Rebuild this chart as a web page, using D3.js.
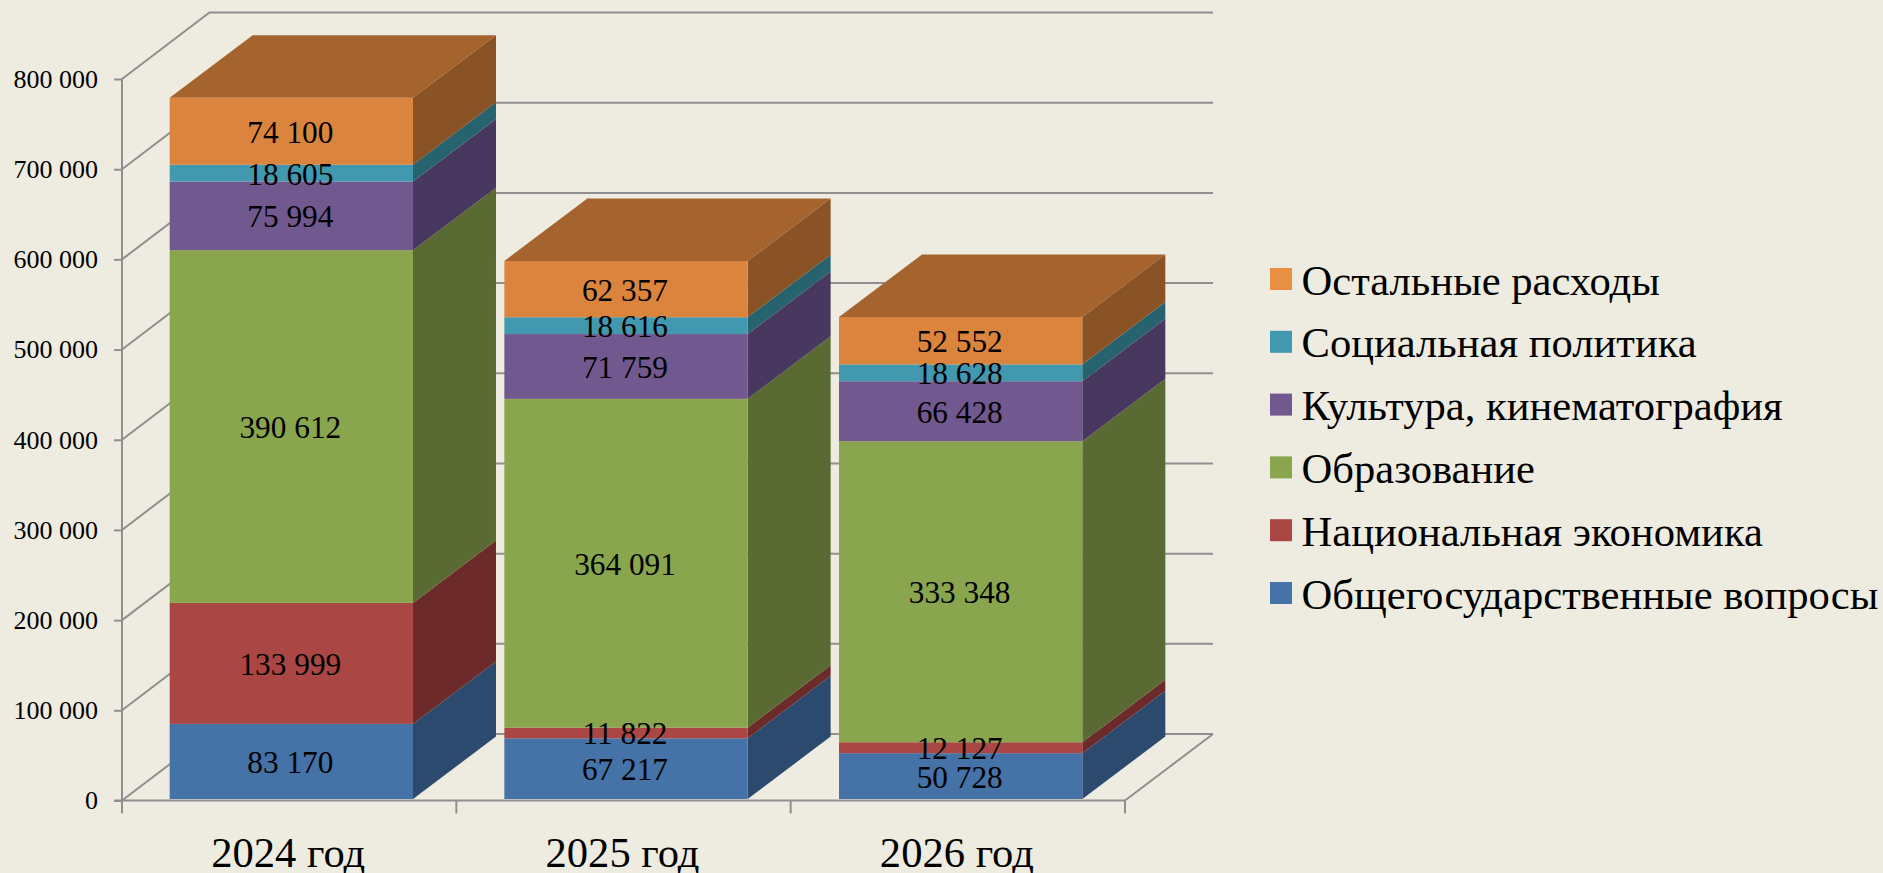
<!DOCTYPE html>
<html>
<head>
<meta charset="utf-8">
<script src="https://cdn.jsdelivr.net/npm/d3@7"></script>
<style>
  html, body { margin: 0; padding: 0; background: #eeece1; overflow: hidden; }
  svg { display: block; }
  text { font-family: "Liberation Serif", serif; fill: #000; }
  .grid, .axis-line { fill: none; stroke: #8f8f8f; stroke-width: 2; }
  .axis path { display: none; }
  .axis line { stroke: #8f8f8f; stroke-width: 2; }
  .axis text { font-size: 26px; }
</style>
</head>
<body>
<svg width="1883" height="873"></svg>
<script>
const years = ["2024 год", "2025 год", "2026 год"];

// stacked bottom to top
const seriesNames = [
  "Общегосударственные вопросы",
  "Национальная экономика",
  "Образование",
  "Культура, кинематография",
  "Социальная политика",
  "Остальные расходы",
];
const generalIssues = [83170, 67217, 50728];
const economy = [133999, 11822, 12127];
const education = [390612, 364091, 333348];
const culture = [75994, 71759, 66428];
const socialPolicy = [18605, 18616, 18628];
const otherSpending = [74100, 62357, 52552];
const seriesValues = [generalIssues, economy, education, culture, socialPolicy, otherSpending];

const yTicks = [0, 100000, 200000, 300000, 400000, 500000, 600000, 700000, 800000];

const frontColors = ["#4572a7", "#aa4643", "#89a54e", "#71588f", "#4198af", "#db843d"];
const sideColors = ["#2c4a6e", "#6c2b2a", "#596b32", "#48375e", "#27626f", "#8a5326"];
const topColor = "#a5632e";
const legendColors = ["#4572a7", "#aa4643", "#89a54e", "#71588f", "#4198af", "#e98f43"];

const svg = d3.select("svg");
const fmt = d3.formatLocale({ thousands: " ", grouping: [3], decimal: ",", currency: ["", ""] }).format(",d");

// axis plane
const xAxisScale = d3.scaleBand().domain(years).range([122, 1125]);
const y = d3.scaleLinear().domain([0, 800000]).range([800.5, 79]);
const wallDx = 87.5;
const wallDy = -66.5;
const wallRight = 1213;

// the bars stand slightly inside the floor
const xBar = d3.scaleBand().domain(years).range([124, 1128]).paddingInner(0.273).paddingOuter(0.1365);
const yBar = d3.scaleLinear().domain([0, 800000]).range([799, 76.6]);
const barDx = 83;
const barDy = -62.5;

// grid on the side and back walls
svg.append("g")
  .selectAll("path")
  .data(yTicks)
  .enter()
  .append("path")
  .attr("class", "grid")
  .attr("d", (d) => `M${122},${y(d)}L${122 + wallDx},${y(d) + wallDy}L${wallRight},${y(d) + wallDy}`);

// floor front edge
svg.append("path")
  .attr("class", "grid")
  .attr("d", `M1125,${y(0)}L${wallRight},${y(0) + wallDy}`);

// axes
svg.append("g")
  .attr("class", "axis")
  .attr("transform", "translate(122,0)")
  .call(d3.axisLeft(y).tickValues(yTicks).tickFormat(fmt).tickSize(8).tickPadding(16));

svg.append("path").attr("class", "axis-line").attr("d", `M122,${y(800000)}L122,${y(0) + 13}`);
svg.append("path").attr("class", "axis-line").attr("d", `M114,${y(0)}L1125,${y(0)}`);

svg.append("g")
  .selectAll("line")
  .data(years.map((d) => xAxisScale(d) + xAxisScale.step()))
  .enter()
  .append("line")
  .attr("x1", (d) => d)
  .attr("x2", (d) => d)
  .attr("y1", y(0))
  .attr("y2", y(0) + 13)
  .attr("stroke", "#8f8f8f")
  .attr("stroke-width", 2);

svg.append("g")
  .selectAll("text")
  .data(years)
  .enter()
  .append("text")
  .attr("x", (d) => xAxisScale(d) + xAxisScale.bandwidth() / 2 - 1)
  .attr("y", 867)
  .attr("text-anchor", "middle")
  .attr("font-size", 42.6)
  .text((d) => d);

// bars
const stacked = d3.stack().keys(d3.range(seriesNames.length)).value((d, k) => seriesValues[k][d])(d3.range(years.length));

years.forEach((year, i) => {
  const g = svg.append("g");
  const x0 = xBar(year);
  const x1 = x0 + xBar.bandwidth();

  stacked.forEach((layer, k) => {
    const yLow = yBar(layer[i][0]);
    const yHigh = yBar(layer[i][1]);

    g.append("path")
      .attr("fill", sideColors[k])
      .attr("d", `M${x1},${yLow}L${x1 + barDx},${yLow + barDy}L${x1 + barDx},${yHigh + barDy}L${x1},${yHigh}Z`);
    g.append("rect")
      .attr("x", x0)
      .attr("y", yHigh)
      .attr("width", xBar.bandwidth())
      .attr("height", yLow - yHigh)
      .attr("fill", frontColors[k]);

    if (k === stacked.length - 1) {
      g.append("path")
        .attr("fill", topColor)
        .attr("d", `M${x0},${yHigh}L${x0 + barDx},${yHigh + barDy}L${x1 + barDx},${yHigh + barDy}L${x1},${yHigh}Z`);
    }
  });

  // labels last so they can run over the next segment
  stacked.forEach((layer, k) => {
    g.append("text")
      .attr("x", (x0 + x1) / 2 - 1)
      .attr("y", (yBar(layer[i][0]) + yBar(layer[i][1])) / 2 + 11.5)
      .attr("text-anchor", "middle")
      .attr("font-size", 31.3)
      .text(fmt(seriesValues[k][i]));
  });
});

// legend
const legendOrder = d3.range(seriesNames.length).reverse();
const legendY = d3.scalePoint().domain(legendOrder).range([268, 582]);

const legend = svg.append("g")
  .selectAll("g")
  .data(legendOrder)
  .enter()
  .append("g")
  .attr("transform", (d) => `translate(1270,${legendY(d)})`);

legend.append("rect")
  .attr("width", 22)
  .attr("height", 22)
  .attr("fill", (d) => legendColors[d]);

legend.append("text")
  .attr("x", 31.5)
  .attr("y", 26.5)
  .attr("font-size", 42.6)
  .text((d) => seriesNames[d]);
</script>
</body>
</html>
